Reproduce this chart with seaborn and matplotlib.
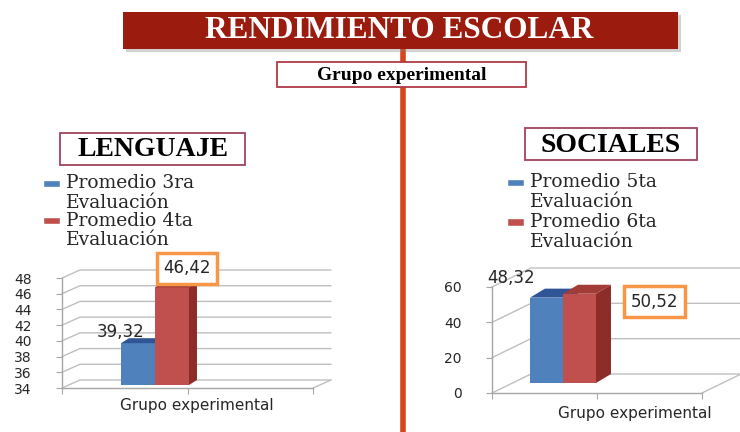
import pandas as pd
import seaborn as sns
import matplotlib.pyplot as plt
from matplotlib.patches import Rectangle, Polygon
from matplotlib.lines import Line2D
from matplotlib.legend_handler import HandlerPatch
from matplotlib.transforms import ScaledTranslation, IdentityTransform

# datos del grafico
grupo = "Grupo experimental"
lenguaje_series = ["Promedio 3ra\nEvaluación", "Promedio 4ta\nEvaluación"]
lenguaje_valores = [39.32, 46.42]
lenguaje_etiquetas = ["39,32", "46,42"]
lenguaje_yticks = [34, 36, 38, 40, 42, 44, 46, 48]

sociales_series = ["Promedio 5ta\nEvaluación", "Promedio 6ta\nEvaluación"]
sociales_valores = [48.32, 50.52]
sociales_etiquetas = ["48,32", "50,52"]
sociales_yticks = [0, 20, 40, 60]

W, H = 740, 432
AZUL = ["#4F81BD", "#385D8A", "#2F5597"]   # frente, lado, tapa
ROJO = ["#C0504D", "#8C2D2A", "#A33B37"]
NARANJA = "#F79646"
GRIS = "#BFBFBF"

sns.set_style("white")
plt.rcParams["font.family"] = ["DejaVu Sans"]

fig = plt.figure(figsize=(W / 100, H / 100), dpi=100)


def fx(x):
    return x / W


def fy(y):
    return 1 - y / H


def caja(x0, y0, x1, y1):
    return [fx(x0), fy(y1), (x1 - x0) / W, (y1 - y0) / H]


def cuadrito(legend, orig_handle, xdescent, ydescent, width, height, fontsize):
    # marcador pequeno centrado en la primera linea del texto
    return Rectangle((-xdescent, -ydescent + height * 0.25), width, height * 0.42)


def grafico(rect, series, valores, etiquetas, yticks, xlim, prof, desp, prof_barra,
            offs, recuadro, ley_pos, ley_esp, xlabel_pos):
    ax = fig.add_axes(rect)
    df = pd.DataFrame({"grupo": [grupo] * len(series), "serie": series, "valor": valores})
    sns.barplot(data=df, x="grupo", y="valor", hue="serie", palette=[AZUL[0], ROJO[0]],
                saturation=1, width=0.8, errorbar=None, ax=ax)
    ax.set_xlim(xlim)
    ax.set_ylim(yticks[0], yticks[-1])
    ax.set_yticks(yticks)
    ax.set_xticks([xlim[0], sum(xlim) / 2, xlim[1]])
    ax.set_xticklabels([])
    ax.tick_params(axis="both", direction="out", length=4, color="#A6A6A6",
                   left=True, bottom=True, labelsize=10, labelcolor="#262626")
    ax.tick_params(axis="y", pad=18)
    sns.despine(ax=ax)
    for s in ["left", "bottom"]:
        ax.spines[s].set_color("#A6A6A6")
        ax.spines[s].set_linewidth(1)

    ax.set_ylabel("")
    ax.set_xlabel(grupo, fontsize=11, color="#262626")
    ax.xaxis.set_label_coords(*xlabel_pos)
    ax.xaxis.label.set_va("center")

    # paredes y rejilla en perspectiva
    dx, dy = prof
    y0 = yticks[0]
    for v in yticks:
        (xa, ya), (xb, _) = ax.transData.transform([(xlim[0], v), (xlim[1], v)])
        ax.add_line(Line2D([xa, xa + dx, xb + dx], [ya, ya + dy, ya + dy],
                           transform=IdentityTransform(), color=GRIS, lw=1,
                           clip_on=False, zorder=1))
    xb, yb = ax.transData.transform((xlim[1], y0))
    ax.add_line(Line2D([xb, xb + dx], [yb, yb + dy], transform=IdentityTransform(),
                       color=GRIS, lw=1, clip_on=False, zorder=1))

    # barras con volumen
    tb = ax.transData + ScaledTranslation(desp[0] / 100, desp[1] / 100, fig.dpi_scale_trans)
    bx, by = prof_barra
    for i, (cont, col) in enumerate(zip(ax.containers, [AZUL, ROJO])):
        for p in cont.patches:
            h = p.get_height()
            p.set_y(y0)
            p.set_height(h - y0)
            p.set_transform(tb)
            p.set_clip_on(False)
            p.set_zorder(3 + i)
            p.set_edgecolor("none")
            (xa, ya), (xc, yc) = tb.transform([(p.get_x(), y0), (p.get_x() + p.get_width(), h)])
            lado = [(xc, ya), (xc, yc), (xc + bx, yc + by), (xc + bx, ya + by)]
            tapa = [(xa, yc), (xc, yc), (xc + bx, yc + by), (xa + bx, yc + by)]
            for pts, c in [(lado, col[1]), (tapa, col[2])]:
                ax.add_patch(Polygon(pts, closed=True, transform=IdentityTransform(),
                                     fc=c, ec="none", clip_on=False, zorder=3.5 + i))

            xm = p.get_x() + p.get_width() / 2
            kw = {}
            if i == recuadro:
                kw["bbox"] = dict(boxstyle="square,pad=0.4", fc="white", ec=NARANJA, lw=2.5)
            ax.annotate(etiquetas[i], xy=(xm, h), xycoords=tb,
                        xytext=(offs[i][0] * 0.72, offs[i][1] * 0.72), textcoords="offset points",
                        ha="center", va="center", fontsize=12, color="#262626",
                        zorder=6, annotation_clip=False, **kw)

    # leyenda
    leg = ax.get_legend()
    handles = leg.legend_handles
    labels = [t.get_text() for t in leg.get_texts()]
    leg = ax.legend(handles, labels, loc="upper left", bbox_to_anchor=(fx(ley_pos[0]), fy(ley_pos[1])),
                    bbox_transform=fig.transFigure, frameon=False,
                    prop={"family": "DejaVu Serif", "size": 13.5},
                    handlelength=0.9, handleheight=1.0, handletextpad=0.35,
                    labelspacing=ley_esp, borderpad=0, borderaxespad=0,
                    handler_map={type(handles[0]): HandlerPatch(patch_func=cuadrito)})
    for t in leg.get_texts():
        t.set_linespacing(1.12)
    for col in leg._legend_handle_box.get_children():
        for fila in col.get_children():
            fila.align = "top"
    return ax


grafico(caja(62, 278, 313, 388), lenguaje_series, lenguaje_valores, lenguaje_etiquetas,
        lenguaje_yticks, (-1.035, 1.918), (18, 8), (5, 3), (8, 5),
        [(-17, 11), (15, 19)], 1, (43, 174), 0.0, (0.538, -0.155))

grafico(caja(492, 287, 702, 393), sociales_series, sociales_valores, sociales_etiquetas,
        sociales_yticks, (-0.630, 1.915), (39, 19), (19, 10), (15, 9),
        [(-35, 20), (75, -8)], 1, (507, 173), 0.12, (0.681, -0.189))

# linea divisoria
fig.add_artist(Line2D([fx(403), fx(403)], [fy(49), fy(432)], transform=fig.transFigure,
                      color="#D9441C", lw=4, zorder=1))

# titulo
fig.add_artist(Rectangle((fx(126), fy(52)), (678 - 123) / W, 37 / H, transform=fig.transFigure,
                         fc="#7F7F7F", ec="none", alpha=0.35, zorder=2))
fig.add_artist(Rectangle((fx(123), fy(49)), (678 - 123) / W, 37 / H, transform=fig.transFigure,
                         fc="#9B1C0E", ec="none", zorder=3))
fig.text(fx(399), fy(31), "RENDIMIENTO ESCOLAR", ha="center", va="center", color="white",
         fontsize=22.5, fontweight="bold", family="Liberation Serif", zorder=4)

# recuadros de texto
for (x0, y0, x1, y1), txt, size, ec in [
        ((277, 62, 526, 87), "Grupo experimental", 14, "#B03A48"),
        ((60, 133, 245, 165), "LENGUAJE", 20, "#A0445E"),
        ((525, 128, 697, 160), "SOCIALES", 20, "#A0445E")]:
    fig.add_artist(Rectangle((fx(x0), fy(y1)), (x1 - x0) / W, (y1 - y0) / H,
                             transform=fig.transFigure, fc="white", ec=ec, lw=1.3, zorder=3))
    fig.text(fx((x0 + x1) / 2), fy((y0 + y1) / 2 + 1), txt, ha="center", va="center",
             fontsize=size, fontweight="bold", family="Liberation Serif", color="black", zorder=4)

plt.savefig("out.png", dpi=100)
